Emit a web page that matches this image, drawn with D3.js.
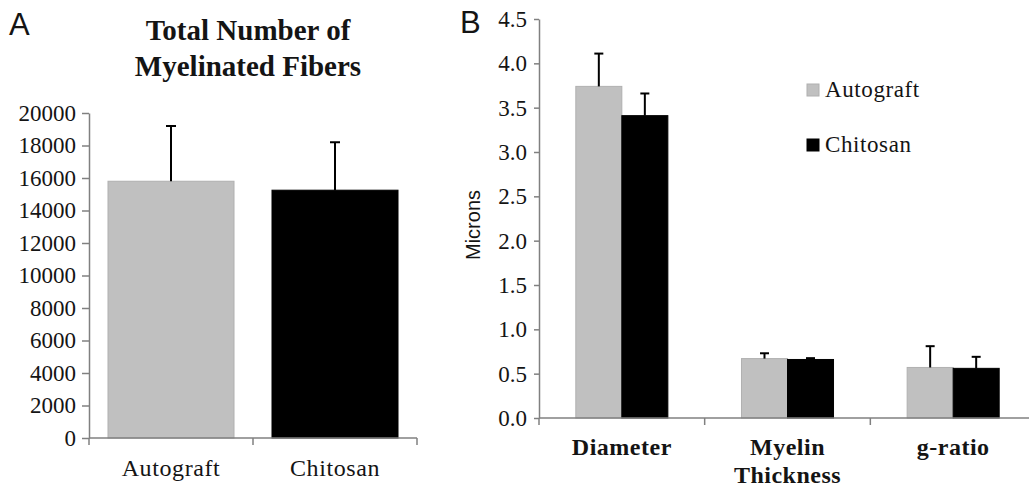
<!DOCTYPE html>
<html><head><meta charset="utf-8">
<script src="https://cdn.jsdelivr.net/npm/d3@7"></script>
<style>body{margin:0;background:#fff}svg{display:block}</style>
</head><body>
<svg id="chart" width="1029" height="489"></svg>
<script>
// ---------- data ----------
const groupsA = ["Autograft", "Chitosan"];
const fibersMean = [15800, 15250];
const fibersErr = [3400, 2950];
const ticksA = [0, 2000, 4000, 6000, 8000, 10000, 12000, 14000, 16000, 18000, 20000];

const measures = ["Diameter", "Myelin Thickness", "g-ratio"];
const seriesB = ["Autograft", "Chitosan"];
const autograftMicrons = [3.74, 0.67, 0.57];
const chitosanMicrons = [3.41, 0.66, 0.56];
const autograftErr = [0.37, 0.06, 0.24];
const chitosanErr = [0.25, 0.015, 0.13];
const ticksB = [0, 0.5, 1.0, 1.5, 2.0, 2.5, 3.0, 3.5, 4.0, 4.5];

// ---------- styles ----------
const GRAY = "#c0c0c0", BLACK = "#000", AXIS = "#808080", TXT = "#141414";
const SERIF = "'Liberation Serif','Times New Roman',serif";
const SANS = "'Liberation Sans',Arial,sans-serif";
const colorB = d3.scaleOrdinal().domain(seriesB).range([GRAY, BLACK]);

const svg = d3.select("#chart");

// ================= Panel A =================
const A = svg.append("g");
const xA = d3.scaleBand().domain(groupsA).range([89, 417]).padding(0);
const barA = d3.scaleBand().domain(["bar"]).range([0, xA.bandwidth()]).padding(0.131);
const yA = d3.scaleLinear().domain([0, 20000]).range([438, 113]);
const dataA = groupsA.map((g, i) => ({g, v: fibersMean[i], e: fibersErr[i]}));

A.append("text").text("A").attr("x", 9).attr("y", 35)
  .attr("font-family", SANS).attr("font-size", 31).attr("fill", TXT);
A.append("text").attr("x", 248).attr("text-anchor", "middle")
  .attr("font-family", SERIF).attr("font-weight", "bold").attr("font-size", 29).attr("fill", TXT)
  .selectAll("tspan").data(["Total Number of", "Myelinated Fibers"]).join("tspan")
  .attr("x", 248).attr("y", (d, i) => 40 + i * 36).text(d => d);

// bars
A.selectAll("rect.bar").data(dataA).join("rect").attr("class", "bar")
  .attr("x", d => xA(d.g) + barA("bar")).attr("width", barA.bandwidth())
  .attr("y", d => yA(d.v)).attr("height", d => yA(0) - yA(d.v))
  .attr("fill", (d, i) => i === 0 ? GRAY : BLACK)
  .attr("stroke", (d, i) => i === 0 ? "#b0b0b0" : BLACK).attr("stroke-width", 1);
// error bars
const errA = A.selectAll("g.err").data(dataA).join("g").attr("class", "err")
  .attr("stroke", BLACK).attr("stroke-width", 2);
errA.append("line").attr("x1", d => xA(d.g) + xA.bandwidth() / 2).attr("x2", d => xA(d.g) + xA.bandwidth() / 2)
  .attr("y1", d => yA(d.v)).attr("y2", d => yA(d.v + d.e));
errA.append("line").attr("x1", d => xA(d.g) + xA.bandwidth() / 2 - 5).attr("x2", d => xA(d.g) + xA.bandwidth() / 2 + 5)
  .attr("y1", d => yA(d.v + d.e)).attr("y2", d => yA(d.v + d.e));

// y axis
const axA = A.append("g").attr("transform", "translate(89,0)")
  .call(d3.axisLeft(yA).tickValues(ticksA).tickFormat(d3.format("d")).tickSize(7).tickSizeOuter(0).tickPadding(6));
axA.select(".domain").attr("stroke", AXIS).attr("stroke-width", 1.5);
axA.selectAll(".tick line").attr("stroke", AXIS).attr("stroke-width", 1.5);
axA.selectAll(".tick text").attr("font-family", SERIF).attr("font-size", 23).attr("fill", TXT);
// x axis
const bA = groupsA.map(g => xA(g)).concat([xA.range()[1]]);
A.append("line").attr("x1", xA.range()[0]).attr("x2", xA.range()[1]).attr("y1", yA(0)).attr("y2", yA(0))
  .attr("stroke", AXIS).attr("stroke-width", 1.5);
A.selectAll("line.bt").data(bA).join("line").attr("class", "bt")
  .attr("x1", d => d).attr("x2", d => d).attr("y1", yA(0)).attr("y2", yA(0) + 7)
  .attr("stroke", AXIS).attr("stroke-width", 1.5);
A.selectAll("text.xl").data(groupsA).join("text").attr("class", "xl")
  .attr("x", d => xA(d) + xA.bandwidth() / 2).attr("y", 476).attr("text-anchor", "middle")
  .attr("font-family", SERIF).attr("font-size", 24).attr("letter-spacing", 0.6).attr("fill", TXT).text(d => d);

// ================= Panel B =================
const B = svg.append("g");
const xB = d3.scaleBand().domain(measures).range([539, 1036]).padding(0);
const xInner = d3.scaleBand().domain(seriesB).range([0, xB.bandwidth()]).paddingInner(0).paddingOuter(0.8);
const yB = d3.scaleLinear().domain([0, 4.5]).range([418, 19]);
const valsB = {Autograft: autograftMicrons, Chitosan: chitosanMicrons};
const errsB = {Autograft: autograftErr, Chitosan: chitosanErr};
const dataB = [];
measures.forEach((m, i) => seriesB.forEach(s => dataB.push({m, s, v: valsB[s][i], e: errsB[s][i]})));

B.append("text").text("B").attr("x", 460).attr("y", 33)
  .attr("font-family", SANS).attr("font-size", 31).attr("fill", TXT);

B.selectAll("rect.bar").data(dataB).join("rect").attr("class", "bar")
  .attr("x", d => xB(d.m) + xInner(d.s)).attr("width", xInner.bandwidth())
  .attr("y", d => yB(d.v)).attr("height", d => yB(0) - yB(d.v))
  .attr("fill", d => colorB(d.s))
  .attr("stroke", d => d.s === "Autograft" ? "#b0b0b0" : BLACK).attr("stroke-width", 1);
const errB = B.selectAll("g.err").data(dataB).join("g").attr("class", "err")
  .attr("stroke", BLACK).attr("stroke-width", 2);
const cx = d => xB(d.m) + xInner(d.s) + xInner.bandwidth() / 2;
errB.append("line").attr("x1", cx).attr("x2", cx).attr("y1", d => yB(d.v)).attr("y2", d => yB(d.v + d.e));
errB.append("line").attr("x1", d => cx(d) - 4.5).attr("x2", d => cx(d) + 4.5)
  .attr("y1", d => yB(d.v + d.e)).attr("y2", d => yB(d.v + d.e));

const axB = B.append("g").attr("transform", "translate(539,0)")
  .call(d3.axisLeft(yB).tickValues(ticksB).tickFormat(d3.format(".1f")).tickSize(5).tickSizeOuter(0).tickPadding(7));
axB.select(".domain").attr("stroke", AXIS).attr("stroke-width", 1.5);
axB.selectAll(".tick line").attr("stroke", AXIS).attr("stroke-width", 1.5);
axB.selectAll(".tick text").attr("font-family", SERIF).attr("font-size", 23).attr("fill", TXT);

const bB = measures.map(m => xB(m));
B.append("line").attr("x1", xB.range()[0]).attr("x2", xB.range()[1]).attr("y1", yB(0)).attr("y2", yB(0))
  .attr("stroke", AXIS).attr("stroke-width", 1.5);
B.selectAll("line.bt").data(bB).join("line").attr("class", "bt")
  .attr("x1", d => d).attr("x2", d => d).attr("y1", yB(0)).attr("y2", yB(0) + 7)
  .attr("stroke", AXIS).attr("stroke-width", 1.5);

B.append("text").text("Microns").attr("transform", "translate(480,225) rotate(-90)")
  .attr("text-anchor", "middle").attr("font-family", SANS).attr("font-size", 20).attr("fill", TXT);

const xlB = B.selectAll("text.xl").data(measures).join("text").attr("class", "xl")
  .attr("text-anchor", "middle").attr("font-family", SERIF).attr("font-weight", "bold")
  .attr("font-size", 24).attr("letter-spacing", 0.5).attr("fill", TXT);
xlB.selectAll("tspan").data(d => d.split(" ").map(t => ({t, m: d}))).join("tspan")
  .attr("x", d => xB(d.m) + xB.bandwidth() / 2).attr("y", (d, i) => 455 + i * 28).text(d => d.t);

// legend
const leg = B.selectAll("g.leg").data(seriesB).join("g").attr("class", "leg")
  .attr("transform", (d, i) => `translate(807,${84 + i * 55})`);
leg.append("rect").attr("width", 12).attr("height", 12).attr("fill", d => colorB(d))
  .attr("stroke", d => d === "Autograft" ? "#b0b0b0" : BLACK);
leg.append("text").attr("x", 18).attr("y", 12.5).attr("font-family", SERIF).attr("font-size", 23)
  .attr("letter-spacing", 0.6).attr("fill", TXT).text(d => d);
</script>
</body></html>
